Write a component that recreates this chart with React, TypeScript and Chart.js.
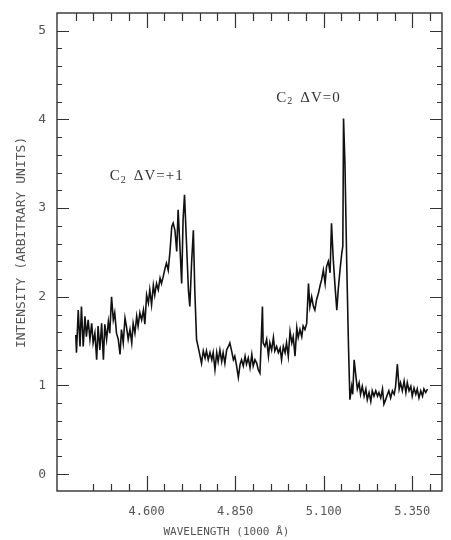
import { useEffect, useRef } from "react";
import { Chart, registerables } from "chart.js";

Chart.register(...registerables);

// Wavelength in units of 1000 Å
const wavelength = [
  4.400, 4.402, 4.407, 4.412, 4.416, 4.421, 4.426, 4.430, 4.435, 4.440, 4.445, 4.449,
  4.454, 4.459, 4.463, 4.468, 4.473, 4.478, 4.482, 4.487, 4.492, 4.496,
  4.501, 4.506, 4.510, 4.515, 4.520, 4.525, 4.529, 4.534, 4.539, 4.543,
  4.548, 4.553, 4.558, 4.562, 4.567, 4.572, 4.576, 4.581, 4.586, 4.591,
  4.595, 4.600, 4.605, 4.609, 4.614, 4.619, 4.623, 4.628, 4.633, 4.638,
  4.642, 4.647, 4.652, 4.656, 4.661, 4.666, 4.671, 4.675, 4.680, 4.685,
  4.689, 4.694, 4.699, 4.703, 4.707, 4.713, 4.718, 4.722, 4.727, 4.732, 4.736, 4.741,
  4.749, 4.755, 4.760, 4.765, 4.769, 4.774, 4.779, 4.784, 4.788, 4.793, 4.798,
  4.802, 4.807, 4.812, 4.816, 4.821, 4.826, 4.831, 4.835, 4.840, 4.845,
  4.849, 4.854, 4.859, 4.864,
  4.868, 4.873, 4.878, 4.882, 4.887, 4.892, 4.897, 4.901, 4.906, 4.911, 4.915, 4.920,
  4.923, 4.927, 4.929, 4.934, 4.939, 4.944, 4.948, 4.953, 4.958, 4.962, 4.967, 4.972,
  4.977, 4.981, 4.986, 4.991, 4.995, 5.000, 5.005, 5.010, 5.014, 5.019,
  5.024, 5.028, 5.033, 5.038, 5.042, 5.047, 5.052, 5.057, 5.061, 5.066,
  5.071, 5.075, 5.080, 5.085, 5.090, 5.094, 5.099, 5.104, 5.108, 5.113,
  5.118, 5.122, 5.127, 5.132, 5.137, 5.141, 5.146, 5.151, 5.154, 5.156,
  5.160, 5.165, 5.170, 5.174, 5.179, 5.182, 5.186, 5.190,
  5.195, 5.200, 5.204, 5.209, 5.214, 5.219, 5.223, 5.228, 5.233, 5.237,
  5.242, 5.247, 5.252, 5.256, 5.261, 5.266, 5.270, 5.275, 5.280, 5.284,
  5.289, 5.294, 5.299, 5.303, 5.308, 5.313, 5.317, 5.322, 5.327, 5.332,
  5.336, 5.341, 5.346, 5.350, 5.355, 5.360, 5.364, 5.369, 5.374, 5.379,
  5.383, 5.388, 5.393,
];

// Intensity (arbitrary units)
const intensity = [
  1.57, 1.37, 1.85, 1.44, 1.89, 1.44, 1.78, 1.55, 1.74, 1.52, 1.70, 1.48,
  1.59, 1.29, 1.67, 1.40, 1.70, 1.29, 1.69, 1.52, 1.72, 1.59,
  2.00, 1.74, 1.82, 1.59, 1.52, 1.35, 1.63, 1.48, 1.76, 1.67,
  1.52, 1.63, 1.48, 1.70, 1.59, 1.78, 1.67, 1.82, 1.74, 1.85,
  1.69, 2.02, 1.93, 2.08, 1.91, 2.13, 2.02, 2.15, 2.08, 2.21,
  2.15, 2.23, 2.32, 2.38, 2.30, 2.51, 2.79, 2.83, 2.75, 2.51,
  2.98, 2.57, 2.15, 2.87, 3.15, 2.57, 2.08, 1.89, 2.38, 2.75, 2.08, 1.52,
  1.37, 1.25, 1.39, 1.31, 1.39, 1.29, 1.37, 1.29, 1.37, 1.18, 1.37,
  1.27, 1.40, 1.27, 1.37, 1.25, 1.40, 1.44, 1.48, 1.39, 1.29,
  1.33, 1.22, 1.09, 1.24,
  1.29, 1.22, 1.33, 1.24, 1.31, 1.20, 1.35, 1.22, 1.29, 1.25, 1.18, 1.14,
  1.44, 1.89, 1.48, 1.44, 1.52, 1.33, 1.48, 1.40, 1.54, 1.39, 1.44, 1.37,
  1.42, 1.29, 1.44, 1.37, 1.48, 1.33, 1.61, 1.48, 1.55, 1.33,
  1.65, 1.54, 1.63, 1.55, 1.67, 1.63, 1.70, 2.15, 1.89, 2.00,
  1.89, 1.85, 1.97, 2.04, 2.13, 2.19, 2.30, 2.15, 2.34, 2.40,
  2.27, 2.83, 2.42, 2.12, 1.85, 2.08, 2.30, 2.49, 2.57, 4.01,
  3.50, 2.38, 1.44, 0.84, 0.99, 0.90, 1.29, 1.14,
  0.96, 1.03, 0.90, 0.99, 0.88, 0.96, 0.84, 0.92, 0.82, 0.94,
  0.88, 0.94, 0.88, 0.92, 0.86, 0.96, 0.79, 0.84, 0.90, 0.94,
  0.86, 0.94, 0.90, 0.99, 1.24, 0.96, 1.03, 0.94, 1.05, 0.92,
  1.03, 0.94, 0.99, 0.88, 0.97, 0.90, 0.96, 0.86, 0.94, 0.88,
  0.96, 0.92, 0.96,
];

const xMajorTicks = [4.6, 4.85, 5.1, 5.35];
const xMinorTicksTop = [
  4.40, 4.45, 4.50, 4.55, 4.65, 4.70, 4.75, 4.80, 4.90, 4.95, 5.00, 5.05,
  5.15, 5.20, 5.25, 5.30, 5.40,
];
const xMinorTicksBottom = [
  4.45, 4.50, 4.55, 4.65, 4.70, 4.75, 4.80, 4.90, 4.95, 5.00, 5.05,
  5.15, 5.20, 5.25, 5.30, 5.40,
];
const yMajorTicks = [0, 1, 2, 3, 4, 5];
const yMinorTicks = [
  0.2, 0.4, 0.6, 0.8, 1.2, 1.4, 1.6, 1.8, 2.2, 2.4, 2.6, 2.8,
  3.2, 3.4, 3.6, 3.8, 4.2, 4.4, 4.6, 4.8,
];

const annotationMain = ["C", "C"];
const annotationSub = ["2", "2"];
const annotationRest = ["ΔV=+1", "ΔV=0"];
const annotationX = [4.496, 4.966];
const annotationY = [3.356, 4.245];

const xTitle = "WAVELENGTH (1000 Å)";
const yTitle = "INTENSITY (ARBITRARY UNITS)";

const MONO = "'DejaVu Sans Mono', 'Liberation Mono', monospace";
const SERIF = "'Liberation Serif', 'DejaVu Serif', serif";

const framePlugin = {
  id: "frameAndInnerTicks",
  afterDatasetsDraw(chart: any) {
    const { ctx, chartArea, scales } = chart;
    const { left, right, top, bottom } = chartArea;
    const xs = scales.x;
    const ys = scales.y;
    ctx.save();
    ctx.strokeStyle = "#333";
    ctx.lineWidth = 1.4;
    ctx.strokeRect(left, top, right - left, bottom - top);

    ctx.lineWidth = 1.2;
    ctx.beginPath();
    const vx = (vals: number[], len: number, atTop: boolean) => {
      vals.forEach((v) => {
        const px = Math.round(xs.getPixelForValue(v)) + 0.5;
        if (atTop) {
          ctx.moveTo(px, top);
          ctx.lineTo(px, top + len);
        } else {
          ctx.moveTo(px, bottom);
          ctx.lineTo(px, bottom - len);
        }
      });
    };
    vx(xMajorTicks, 15, true);
    vx(xMinorTicksTop, 8, true);
    vx(xMajorTicks, 15, false);
    vx(xMinorTicksBottom, 7, false);

    const vy = (vals: number[], len: number) => {
      vals.forEach((v) => {
        const py = Math.round(ys.getPixelForValue(v)) + 0.5;
        ctx.moveTo(left, py);
        ctx.lineTo(left + len, py);
        ctx.moveTo(right, py);
        ctx.lineTo(right - len, py);
      });
    };
    vy(yMajorTicks, 12);
    vy(yMinorTicks, 5);
    ctx.stroke();

    // annotations
    ctx.fillStyle = "#333";
    ctx.textBaseline = "middle";
    ctx.textAlign = "left";
    (ctx as any).letterSpacing = "1px";
    annotationMain.forEach((m, i) => {
      let x = xs.getPixelForValue(annotationX[i]);
      const y = ys.getPixelForValue(annotationY[i]);
      ctx.font = `15px ${SERIF}`;
      ctx.fillText(m, x, y);
      x += ctx.measureText(m).width;
      ctx.font = `10px ${SERIF}`;
      ctx.fillText(annotationSub[i], x, y + 4);
      x += ctx.measureText(annotationSub[i]).width + 7;
      ctx.font = `15px ${SERIF}`;
      ctx.fillText(annotationRest[i], x, y);
    });
    (ctx as any).letterSpacing = "0px";

    // axis titles
    ctx.fillStyle = "#555";
    ctx.font = `11px ${MONO}`;
    ctx.textAlign = "center";
    ctx.textBaseline = "middle";
    ctx.fillText(xTitle, left + (right - left) * 0.44, 532);
    ctx.save();
    ctx.translate(22, top + (bottom - top) * 0.48);
    ctx.rotate(-Math.PI / 2);
    ctx.font = `13px ${MONO}`;
    ctx.fillText(yTitle, 0, 0);
    ctx.restore();

    ctx.restore();
  },
};

export default function App() {
  const canvasRef = useRef<HTMLCanvasElement | null>(null);

  useEffect(() => {
    if (!canvasRef.current) return;
    const points = wavelength.map((w, i) => ({ x: w, y: intensity[i] }));
    const chart = new Chart(canvasRef.current, {
      type: "line",
      data: {
        datasets: [
          {
            data: points,
            borderColor: "#111",
            borderWidth: 1.6,
            pointRadius: 0,
            tension: 0,
            fill: false,
          },
        ],
      },
      options: {
        responsive: false,
        animation: false,
        layout: { padding: { top: 13, right: 9, left: 0, bottom: 0 } },
        plugins: {
          legend: { display: false },
          tooltip: { enabled: false },
        },
        scales: {
          x: {
            type: "linear",
            min: 4.347,
            max: 5.434,
            grid: { display: false, drawTicks: false },
            border: { display: false },
            afterBuildTicks: (scale: any) => {
              scale.ticks = xMajorTicks.map((v) => ({ value: v }));
            },
            afterFit: (scale: any) => {
              scale.height = 49;
              scale.paddingLeft = 0;
              scale.paddingRight = 0;
            },
            ticks: {
              autoSkip: false,
              maxRotation: 0,
              padding: 14,
              color: "#555",
              font: { family: MONO, size: 12 },
              callback: (v: any) => Number(v).toFixed(3),
            },
          },
          y: {
            type: "linear",
            min: -0.19,
            max: 5.2,
            grid: { display: false, drawTicks: false },
            border: { display: false },
            afterBuildTicks: (scale: any) => {
              scale.ticks = yMajorTicks.map((v) => ({ value: v }));
            },
            afterFit: (scale: any) => {
              scale.width = 57;
              scale.paddingTop = 0;
              scale.paddingBottom = 0;
            },
            ticks: {
              autoSkip: false,
              padding: 11,
              color: "#555",
              font: { family: MONO, size: 13 },
              callback: (v: any) => String(Math.round(Number(v))),
            },
          },
        },
      },
      plugins: [framePlugin],
    });
    return () => chart.destroy();
  }, []);

  return (
    <div style={{ position: "absolute", left: 0, top: 0, width: 451, height: 540, background: "#fff" }}>
      <canvas ref={canvasRef} width={451} height={540} style={{ display: "block" }} />
    </div>
  );
}
